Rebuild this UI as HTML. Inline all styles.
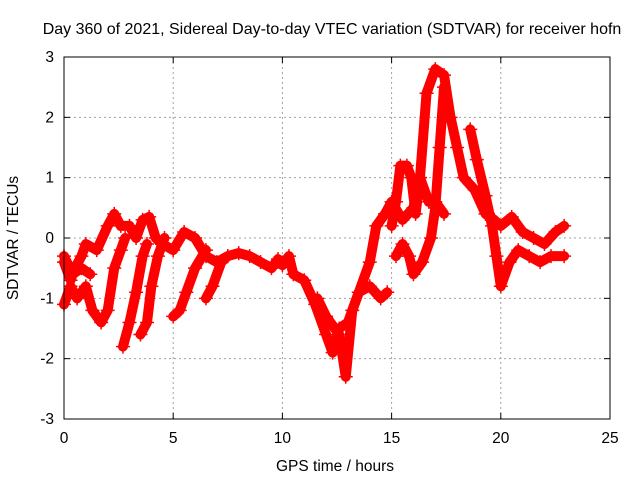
<!DOCTYPE html>
<html><head><meta charset="utf-8"><style>
body{margin:0;background:#fff}
svg text{font-family:"Liberation Sans",sans-serif;font-size:15.5px;fill:#000}
</style></head><body>
<svg id="c" width="640" height="480">
<rect width="640" height="480" fill="#fff"/>
<text x="332" y="34" text-anchor="middle" style="font-size:16px">Day 360 of 2021, Sidereal Day-to-day VTEC variation (SDTVAR) for receiver hofn</text>
<text x="335" y="471" text-anchor="middle">GPS time / hours</text>
<text transform="translate(18,238) rotate(-90)" text-anchor="middle">SDTVAR / TECUs</text>
<g id="grid"></g><g id="ticks"></g><g id="data"></g>
<rect x="64" y="57" width="546" height="362" fill="none" stroke="#000"/>
</svg>
<script>
const xTicks=[0,5,10,15,20,25];
const yTicks=[-3,-2,-1,0,1,2,3];
const track1=[[0,-0.4],[0.3,-0.7],[0.5,-0.5],[0.8,-0.3],[1,-0.1],[1.5,-0.2],[2,0.2],[2.3,0.4],[2.6,0.2],[3,0.2],[3.3,0],[3.6,0.3],[3.9,0.35],[4.2,0],[4.5,-0.1],[5,-0.2],[5.5,0.1],[6,0],[6.5,-0.3],[7,-0.4],[7.5,-0.3],[8,-0.25],[8.5,-0.3],[9,-0.4],[9.5,-0.5],[9.8,-0.35],[10,-0.45],[10.3,-0.3],[10.5,-0.6],[11,-0.7],[11.5,-1.1],[12,-1.6],[12.3,-1.9],[12.6,-1.5],[13,-1.4],[13.5,-0.9],[14,-0.4],[14.3,0.2],[14.7,0.4],[15,0.6],[15.5,0.3],[16,0.5],[16.3,1.0],[16.6,2.4],[17,2.8],[17.4,2.7],[17.7,2.0],[18,1.5],[18.3,1.0],[18.8,0.8],[19.3,0.4],[19.7,0.3],[20,0.2],[20.5,0.35],[21,0.1],[21.5,0],[22,-0.1],[22.5,0.1],[22.9,0.2]];
const track2=[[0,-1.1],[0.3,-0.8],[0.6,-1.0],[1,-0.8],[1.3,-1.2],[1.7,-1.4],[2,-1.2],[2.3,-0.5],[2.6,-0.2],[2.8,0]];
const track3=[[2.7,-1.8],[3.0,-1.4],[3.3,-0.9],[3.6,-0.3],[3.8,-0.1]];
const track4=[[3.5,-1.6],[3.8,-1.4],[4,-0.8],[4.3,-0.3],[4.6,0]];
const track5=[[5,-1.3],[5.3,-1.2],[5.6,-0.9],[6,-0.5],[6.5,-0.2]];
const track6=[[6.5,-1.0],[6.8,-0.8],[7.2,-0.4],[7.5,-0.3]];
const track7=[[11.6,-1.0],[12,-1.3],[12.6,-1.6],[12.9,-2.3],[13.2,-1.2],[13.5,-0.9],[14,-0.8],[14.5,-1.0],[14.8,-0.9]];
const track8=[[15.2,-0.3],[15.5,-0.1],[15.8,-0.3],[16,-0.6],[16.4,-0.4],[16.8,0],[17,0.5],[17.2,1.5],[17.4,2.5]];
const track9=[[18.6,1.8],[18.9,1.3],[19.3,0.7],[19.6,0.2],[19.8,-0.3],[20,-0.8],[20.4,-0.4],[20.8,-0.2],[21.3,-0.3],[21.8,-0.4],[22.3,-0.3],[22.9,-0.3]];
const track10=[[15,0.2],[15.2,0.6],[15.4,1.2],[15.7,1.2],[15.9,1.0],[16.1,0.4],[16.3,1.0],[16.7,0.6],[17,0.6],[17.4,0.4]];
const track11=[[0,-0.3],[0.4,-0.6],[0.8,-0.5],[1.2,-0.6]];
const tracks=[track1,track2,track3,track4,track5,track6,track7,track8,track9,track10,track11];
const X=h=>64+h*546/25, Y=v=>238-v*60.33;
const NS="http://www.w3.org/2000/svg";
function mk(t,a,p){const e=document.createElementNS(NS,t);for(const k in a)e.setAttribute(k,a[k]);p.appendChild(e);return e;}
const g=document.getElementById('grid'),tk=document.getElementById('ticks'),d=document.getElementById('data');
xTicks.forEach(t=>{
 if(t>0&&t<25){const l=mk('line',{x1:X(t),x2:X(t),y1:57,y2:419,stroke:'#a0a0a0','stroke-dasharray':'2,3'},g);
 
 }
 mk('line',{x1:X(t),x2:X(t),y1:419,y2:413,stroke:'#000'},tk);
 mk('line',{x1:X(t),x2:X(t),y1:57,y2:63,stroke:'#000'},tk);
 const tx=mk('text',{x:X(t),y:443,'text-anchor':'middle'},tk);tx.textContent=t;
 
 
});
yTicks.forEach(t=>{
 if(t>-3&&t<3){const l=mk('line',{x1:64,x2:610,y1:Y(t),y2:Y(t),stroke:'#a0a0a0','stroke-dasharray':'2,3'},g);
 
 }
 mk('line',{x1:64,x2:70,y1:Y(t),y2:Y(t),stroke:'#000'},tk);
 mk('line',{x1:604,x2:610,y1:Y(t),y2:Y(t),stroke:'#000'},tk);
 const tx=mk('text',{x:54,y:Y(t)+5,'text-anchor':'end'},tk);tx.textContent=t;
 
 
});
tracks.forEach(tr=>{
 const pl=mk('polyline',{points:tr.map(p=>X(p[0])+','+Y(p[1])).join(' '),fill:'none',stroke:'#f00','stroke-width':10,'stroke-linejoin':'round','stroke-linecap':'round'},d);
 
 
 tr.forEach(p=>{const x=X(p[0]),y=Y(p[1]);
  const m=mk('path',{d:`M${x-7},${y}h14M${x},${y-7}v14`,stroke:'#f00','stroke-width':1.5},d);
  
  
 });
});
</script>
</body></html>
